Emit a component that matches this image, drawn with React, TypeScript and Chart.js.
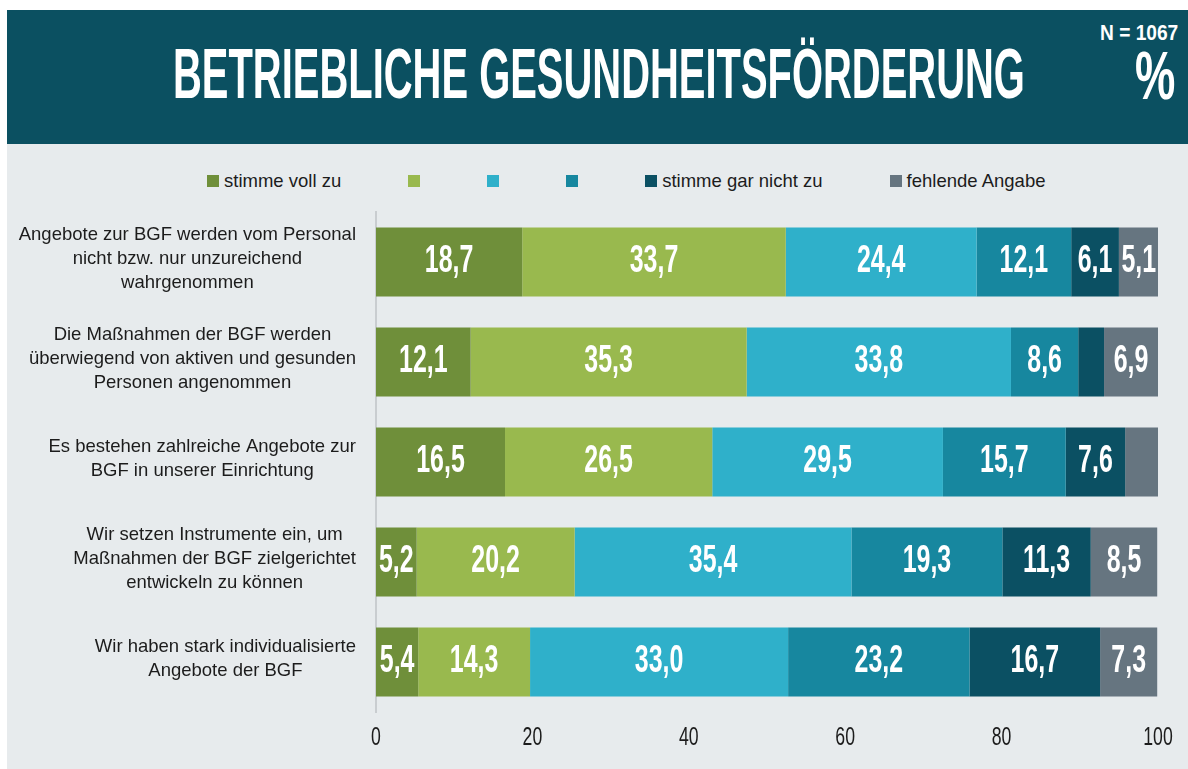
import React, { useEffect, useLayoutEffect, useRef } from 'react';
import { Chart, registerables } from 'chart.js';

Chart.register(...registerables);

// ---------- data ----------
const categories: string[][] = [
  ['Angebote zur BGF werden vom Personal', 'nicht bzw. nur unzureichend', 'wahrgenommen'],
  ['Die Maßnahmen der BGF werden', 'überwiegend von aktiven und gesunden', 'Personen angenommen'],
  ['Es bestehen zahlreiche Angebote zur', 'BGF in unserer Einrichtung'],
  ['Wir setzen Instrumente ein, um', 'Maßnahmen der BGF zielgerichtet', 'entwickeln zu können'],
  ['Wir haben stark individualisierte', 'Angebote der BGF'],
];
const seriesNames = ['stimme voll zu', '', '', '', 'stimme gar nicht zu', 'fehlende Angabe'];
const stimmeVollZu = [18.7, 12.1, 16.5, 5.2, 5.4];
const stufe2 = [33.7, 35.3, 26.5, 20.2, 14.3];
const stufe3 = [24.4, 33.8, 29.5, 35.4, 33.0];
const stufe4 = [12.1, 8.6, 15.7, 19.3, 23.2];
const stimmeGarNichtZu = [6.1, 3.3, 7.6, 11.3, 16.7];
const fehlendeAngabe = [5.1, 6.9, 4.2, 8.5, 7.3];
const xTickValues = [0, 20, 40, 60, 80, 100];
const titleText = 'BETRIEBLICHE GESUNDHEITSFÖRDERUNG';
const sampleText = 'N = 1067';
const unitText = '%';

const seriesValues = [stimmeVollZu, stufe2, stufe3, stufe4, stimmeGarNichtZu, fehlendeAngabe];
const colors = ['#6f8f3a', '#99b94e', '#2fb0ca', '#17879f', '#0b5063', '#667580'];

const HEADER_BG = '#0b5061';
const PANEL_BG = '#e7ebed';
const TEXT = '#1c1c1c';
const LABEL_THRESHOLD = 5;

function FitText(props: { text: string; width: number; style: React.CSSProperties }) {
  const ref = useRef<HTMLSpanElement>(null);
  useLayoutEffect(() => {
    const fit = () => {
      const el = ref.current;
      if (!el) return;
      el.style.transform = 'none';
      const w = el.offsetWidth;
      if (w > 0) el.style.transform = `scaleX(${props.width / w})`;
    };
    fit();
    if ((document as any).fonts && (document as any).fonts.ready) {
      (document as any).fonts.ready.then(fit);
    }
  }, [props.text, props.width]);
  return (
    <span
      ref={ref}
      style={{
        position: 'absolute',
        whiteSpace: 'nowrap',
        transformOrigin: '0 0',
        color: '#ffffff',
        fontFamily: '"Liberation Sans", Arial, sans-serif',
        fontWeight: 700,
        ...props.style,
      }}
    >
      {props.text}
    </span>
  );
}

const dataLabelPlugin = {
  id: 'segmentLabels',
  afterDatasetsDraw(chart: any) {
    const ctx = chart.ctx as CanvasRenderingContext2D;
    ctx.save();
    ctx.fillStyle = '#ffffff';
    ctx.font = 'bold 39px "Liberation Sans", Arial, sans-serif';
    ctx.textAlign = 'center';
    ctx.textBaseline = 'middle';
    chart.data.datasets.forEach((ds: any, di: number) => {
      const meta = chart.getDatasetMeta(di);
      meta.data.forEach((bar: any, i: number) => {
        const v = ds.data[i];
        if (v < LABEL_THRESHOLD) return;
        const cx = (bar.x + bar.base) / 2;
        const cy = bar.y - 1;
        ctx.save();
        ctx.translate(cx, cy);
        ctx.scale(0.64, 1);
        ctx.fillText(v.toFixed(1).replace('.', ','), 0, 0);
        ctx.restore();
      });
    });
    ctx.restore();
  },
};

const axisLabelPlugin = {
  id: 'axisLabels',
  afterDraw(chart: any) {
    const ctx = chart.ctx as CanvasRenderingContext2D;
    const yScale = chart.scales.y;
    const xScale = chart.scales.x;
    // category labels: each block right-aligned, lines centred within the block
    const rightEdge = chart.chartArea.left - 20;
    ctx.save();
    ctx.fillStyle = TEXT;
    ctx.font = '18.5px "Liberation Sans", Arial, sans-serif';
    ctx.textAlign = 'center';
    ctx.textBaseline = 'middle';
    const lineH = 24;
    (chart.data.labels as string[][]).forEach((lines, i) => {
      const blockW = Math.max(...lines.map((l) => ctx.measureText(l).width));
      const cx = rightEdge - blockW / 2;
      const cy = yScale.getPixelForTick(i) - 3.5;
      const startY = cy - ((lines.length - 1) * lineH) / 2;
      lines.forEach((l, k) => ctx.fillText(l, cx, startY + k * lineH));
    });
    // value axis tick labels (condensed)
    ctx.font = '26px "Liberation Sans", Arial, sans-serif';
    const ty = chart.chartArea.bottom + 25.5;
    xScale.ticks.forEach((t: any) => {
      const px = xScale.getPixelForValue(t.value);
      ctx.save();
      ctx.translate(px, ty);
      ctx.scale(0.68, 1);
      ctx.fillText(String(t.value), 0, 0);
      ctx.restore();
    });
    ctx.restore();
  },
};

function BarChart() {
  const canvasRef = useRef<HTMLCanvasElement>(null);
  useEffect(() => {
    if (!canvasRef.current) return;
    const chart = new Chart(canvasRef.current, {
      type: 'bar',
      data: {
        labels: categories as any,
        datasets: seriesValues.map((vals, i) => ({
          label: seriesNames[i],
          data: vals,
          backgroundColor: colors[i],
          borderWidth: 0,
          barPercentage: 0.69,
          categoryPercentage: 1,
        })),
      },
      options: {
        animation: false,
        responsive: true,
        maintainAspectRatio: false,
        indexAxis: 'y',
        layout: { padding: { top: 12, right: 30, left: 0, bottom: 0 } },
        plugins: {
          legend: { display: false },
          tooltip: { enabled: false },
          title: { display: false },
        },
        scales: {
          x: {
            stacked: true,
            min: 0,
            max: 100,
            afterBuildTicks: (s: any) => {
              s.ticks = xTickValues.map((v) => ({ value: v }));
            },
            ticks: { display: false },
            grid: { display: false, drawTicks: false },
            border: { display: false },
            afterFit: (s: any) => {
              s.height = 57;
            },
          },
          y: {
            stacked: true,
            ticks: { display: false },
            grid: { display: false, drawTicks: false },
            border: { display: true, color: '#c9cdd0', width: 2 },
            afterFit: (s: any) => {
              s.width = 369;
            },
          },
        },
      },
      plugins: [dataLabelPlugin, axisLabelPlugin],
    } as any);
    return () => chart.destroy();
  }, []);
  return <canvas ref={canvasRef} />;
}

export default function App() {
  return (
    <div style={{ position: 'absolute', left: 7, top: 10, width: 1181, height: 759, overflow: 'hidden' }}>
      <div style={{ position: 'absolute', left: 0, top: 0, width: 1181, height: 134, background: HEADER_BG }}>
        <FitText text={titleText} width={852} style={{ left: 166, top: 27.7, fontSize: 71, lineHeight: '71px' }} />
        <FitText text={sampleText} width={78} style={{ left: 1093, top: 12.2, fontSize: 21.6, lineHeight: '21.6px' }} />
        <FitText text={unitText} width={40} style={{ left: 1128, top: 31, fontSize: 68, lineHeight: '68px' }} />
      </div>
      <div style={{ position: 'absolute', left: 0, top: 134, width: 1181, height: 625, background: PANEL_BG }}>
        <div
          style={{
            position: 'absolute',
            left: 200,
            top: 25,
            height: 24,
            display: 'flex',
            alignItems: 'center',
            gap: 67,
            fontFamily: '"Liberation Sans", Arial, sans-serif',
            fontSize: 18.5,
            color: TEXT,
            whiteSpace: 'nowrap',
          }}
        >
          {seriesNames.map((n, i) => (
            <div key={i} style={{ display: 'flex', alignItems: 'center' }}>
              <span style={{ display: 'inline-block', width: 12, height: 12, background: colors[i] }} />
              {n ? <span style={{ marginLeft: 5 }}>{n}</span> : null}
            </div>
          ))}
        </div>
        <div style={{ position: 'absolute', left: 0, top: 56, width: 1181, height: 569 }}>
          <BarChart />
        </div>
      </div>
    </div>
  );
}
